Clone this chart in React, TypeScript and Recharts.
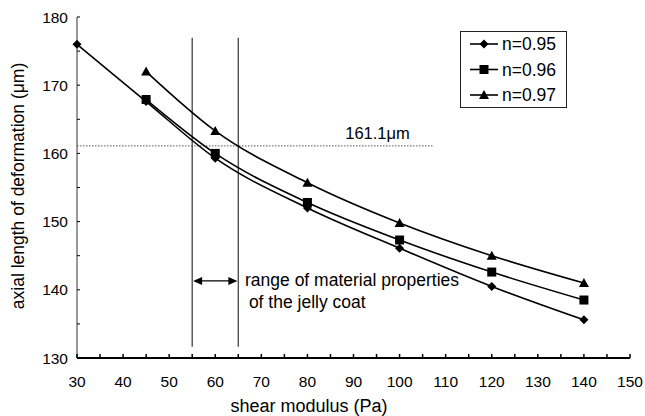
import React from 'react';
import { LineChart, Line, XAxis, YAxis, ReferenceLine, ReferenceDot, Legend } from 'recharts';

const shearModulus = [30, 45, 60, 80, 100, 120, 140];
const n095 = [176.0, 167.6, 159.3, 152.0, 146.1, 140.5, 135.6];
const n096 = [null, 167.9, 160.0, 152.8, 147.3, 142.6, 138.5];
const n097 = [null, 172.0, 163.3, 155.7, 149.8, 145.0, 141.0];
const seriesNames = ['n=0.95', 'n=0.96', 'n=0.97'];
const xTicks = [30, 35, 40, 45, 50, 55, 60, 65, 70, 75, 80, 85, 90, 95, 100, 105, 110, 115, 120, 125, 130, 135, 140, 145, 150];
const yTicks = [130, 135, 140, 145, 150, 155, 160, 165, 170, 175, 180];
const rangeBounds = [55, 65];
const threshold = 161.1;

const data = shearModulus.map((x, i) => ({ x, a: n095[i], b: n096[i], c: n097[i] }));

const FONT = '"Liberation Sans", Arial, Helvetica, sans-serif';

const Diamond = (p: any) => {
  const { cx, cy } = p;
  if (cx == null || cy == null) return null;
  const s = 4.5;
  return <path d={`M${cx},${cy - s}L${cx + s},${cy}L${cx},${cy + s}L${cx - s},${cy}Z`} fill="#000" />;
};
const Square = (p: any) => {
  const { cx, cy } = p;
  if (cx == null || cy == null) return null;
  const s = 4.5;
  return <rect x={cx - s} y={cy - s} width={2 * s} height={2 * s} fill="#000" />;
};
const Triangle = (p: any) => {
  const { cx, cy } = p;
  if (cx == null || cy == null) return null;
  return <path d={`M${cx},${cy - 5}L${cx + 5},${cy + 4}L${cx - 5},${cy + 4}Z`} fill="#000" />;
};

const XTick = (p: any) => {
  const { x, y, payload } = p;
  const v = payload.value;
  return (
    <g>
      <line x1={x} x2={x} y1={y} y2={y - 4} stroke="#000" strokeWidth={1.5} />
      {v % 10 === 0 && (
        <text x={x} y={y + 29} textAnchor="middle" fontSize={15.5} fontFamily={FONT} fill="#000">{v}</text>
      )}
    </g>
  );
};

const YTick = (p: any) => {
  const { x, y, payload } = p;
  const v = payload.value;
  return (
    <g>
      <line x1={x} x2={x + 3} y1={y} y2={y} stroke="#000" strokeWidth={1} />
      {v % 10 === 0 && (
        <text x={x - 9} y={y + 5.5} textAnchor="end" fontSize={15.5} fontFamily={FONT} fill="#000">{v}</text>
      )}
    </g>
  );
};

const LegendBox = () => {
  const markers = [Diamond, Square, Triangle];
  return (
    <svg width={108} height={78} style={{ display: 'block' }}>
      <rect x={0.5} y={0.5} width={106} height={76} fill="#fff" stroke="#222" strokeWidth={1} />
      {seriesNames.map((name, i) => {
        const cy = 13 + i * 25.5;
        const M = markers[i];
        return (
          <g key={name}>
            <line x1={10} x2={38} y1={cy} y2={cy} stroke="#000" strokeWidth={1.6} />
            <M cx={24} cy={cy} />
            <text x={42} y={cy + 6} fontSize={17.5} fontFamily={FONT} fill="#000">{name}</text>
          </g>
        );
      })}
    </svg>
  );
};

const textShape = (txt: string, size: number) => (p: any) => (
  <text x={p.cx} y={p.cy} fontSize={size} fontFamily={FONT} fill="#000">{txt}</text>
);
const arrowHead = (dir: number) => (p: any) => {
  const { cx, cy } = p;
  return <path d={`M${cx},${cy}L${cx - dir * 9},${cy - 4}L${cx - dir * 9},${cy + 4}Z`} fill="#000" />;
};

export default function App() {
  return (
    <div style={{ position: 'absolute', left: 0, top: 0, width: 645, height: 416, background: '#fff' }}>
      <LineChart width={645} height={416} data={data} margin={{ top: 17, right: 15, bottom: 0, left: 0 }}>
        <XAxis
          type="number"
          dataKey="x"
          domain={[30, 150]}
          ticks={xTicks}
          interval={0}
          tickSize={0}
          tickMargin={0}
          tick={<XTick />}
          axisLine={{ stroke: '#000', strokeWidth: 2 }}
          tickLine={false}
          height={58}
          label={{
            content: () => (
              <text x={309} y={412} textAnchor="middle" fontSize={18} fontFamily={FONT} fill="#000">shear modulus (Pa)</text>
            ),
          }}
        />
        <YAxis
          type="number"
          domain={[130, 180]}
          ticks={yTicks}
          interval={0}
          tickSize={0}
          tickMargin={0}
          tick={<YTick />}
          axisLine={{ stroke: '#333', strokeWidth: 1 }}
          tickLine={false}
          width={77}
          label={{
            content: () => (
              <text x={24} y={186} transform="rotate(-90 24 186)" textAnchor="middle" fontSize={17.5} fontFamily={FONT} fill="#000">axial length of deformation (μm)</text>
            ),
          }}
        />
        <Legend layout="vertical" align="center" verticalAlign="middle" wrapperStyle={{ left: 460, top: 31, width: 108 }} content={() => <LegendBox />} />
        {rangeBounds.map((b) => (
          <ReferenceLine key={b} segment={[{ x: b, y: 176.96 }, { x: b, y: 131.66 }]} stroke="#444" strokeWidth={1.3} ifOverflow="visible" />
        ))}
        <ReferenceLine segment={[{ x: 30, y: threshold }, { x: 107.4, y: threshold }]} stroke="#555" strokeWidth={1} strokeDasharray="1.5 1.5" ifOverflow="visible" />
        <ReferenceLine segment={[{ x: rangeBounds[0] + 1, y: 141.3 }, { x: rangeBounds[1] - 1, y: 141.3 }]} stroke="#000" strokeWidth={1.2} ifOverflow="visible" />
        <ReferenceDot x={rangeBounds[0] + 0.2} y={141.3} r={0} shape={arrowHead(-1)} ifOverflow="visible" />
        <ReferenceDot x={rangeBounds[1] - 0.2} y={141.3} r={0} shape={arrowHead(1)} ifOverflow="visible" />
        <ReferenceDot x={66.46} y={140.5} r={0} shape={textShape('range of material properties', 17.5)} ifOverflow="visible" />
        <ReferenceDot x={67.3} y={137.3} r={0} shape={textShape('of the jelly coat', 17.5)} ifOverflow="visible" />
        <ReferenceDot x={88.2} y={162.1} r={0} shape={textShape('161.1μm', 16.5)} ifOverflow="visible" />
        <Line type="monotone" dataKey="a" name={seriesNames[0]} stroke="#000" strokeWidth={1.6} dot={<Diamond />} isAnimationActive={false} />
        <Line type="monotone" dataKey="b" name={seriesNames[1]} stroke="#000" strokeWidth={1.6} dot={<Square />} isAnimationActive={false} />
        <Line type="monotone" dataKey="c" name={seriesNames[2]} stroke="#000" strokeWidth={1.6} dot={<Triangle />} isAnimationActive={false} />
      </LineChart>
    </div>
  );
}
